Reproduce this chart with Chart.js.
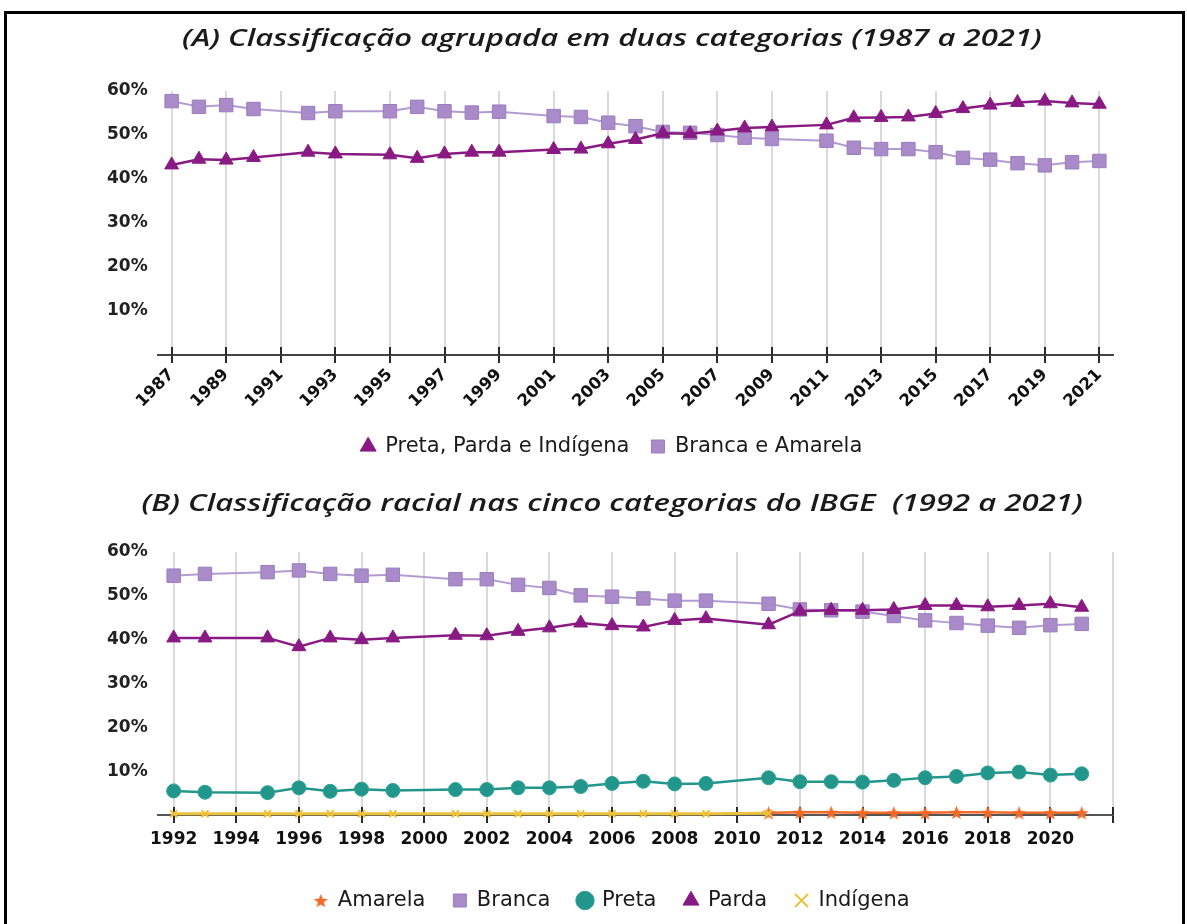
<!DOCTYPE html>
<html>
<head>
<meta charset="utf-8">
<script src="https://cdn.jsdelivr.net/npm/chart.js@4.4.1/dist/chart.umd.min.js"></script>
<style>
    html, body { margin: 0; padding: 0; background: #fff; }
    #page { position: relative; width: 1187px; height: 924px; overflow: hidden; background: #fff; }
    .frame { position: absolute; left: 4px; top: 11px; width: 1181px; height: 940px; border: 3px solid #000; box-sizing: border-box; }
    .title { position: absolute; display: inline-block; font-family: "Open Sans", sans-serif; font-style: italic; font-weight: 600; font-size: 24px; color: #1a1a1a; white-space: pre; line-height: 30px; transform-origin: 50% 50%; }
    .box { position: absolute; left: 0; width: 1187px; }
</style>
</head>
<body>
<div id="page">
    <div class="frame"></div>
    <div class="box" style="top:0; height:470px;"><canvas id="chartA"></canvas></div>
    <div class="box" style="top:470px; height:454px;"><canvas id="chartB"></canvas></div>
    <span class="title" id="titleA" style="top:22px;">(A) Classificação agrupada em duas categorias (1987 a 2021)</span>
    <span class="title" id="titleB" style="top:487px;">(B) Classificação racial nas cinco categorias do IBGE  (1992 a 2021)</span>
</div>
<script>
// (A) two groups, PNAD years
const yearsA = [1987, 1988, 1989, 1990, 1992, 1993, 1995, 1996, 1997, 1998, 1999, 2001, 2002, 2003, 2004, 2005, 2006, 2007, 2008, 2009, 2011, 2012, 2013, 2014, 2015, 2016, 2017, 2018, 2019, 2020, 2021];
const pretaPardaIndigena = [43.2, 44.5, 44.3, 44.9, 46.1, 45.7, 45.5, 44.7, 45.7, 46.1, 46.1, 46.7, 46.8, 48.0, 49.0, 50.4, 50.3, 50.9, 51.6, 51.8, 52.3, 53.9, 54.0, 54.1, 54.9, 56.0, 56.8, 57.4, 57.7, 57.3, 57.0];
const brancaAmarela = [57.7, 56.4, 56.8, 55.9, 55.0, 55.4, 55.4, 56.4, 55.4, 55.1, 55.3, 54.3, 54.1, 52.8, 52.0, 50.7, 50.5, 50.0, 49.4, 49.1, 48.7, 47.1, 46.8, 46.8, 46.1, 44.8, 44.4, 43.6, 43.1, 43.8, 44.1];
const tickYearsA = [1987, 1989, 1991, 1993, 1995, 1997, 1999, 2001, 2003, 2005, 2007, 2009, 2011, 2013, 2015, 2017, 2019, 2021];

// (B) five IBGE categories
const yearsB = [1992, 1993, 1995, 1996, 1997, 1998, 1999, 2001, 2002, 2003, 2004, 2005, 2006, 2007, 2008, 2009, 2011, 2012, 2013, 2014, 2015, 2016, 2017, 2018, 2019, 2020, 2021];
const branca = [54.6, 55.0, 55.4, 55.8, 55.0, 54.6, 54.8, 53.8, 53.8, 52.5, 51.8, 50.1, 49.8, 49.4, 48.9, 48.9, 48.2, 46.9, 46.7, 46.4, 45.4, 44.4, 43.8, 43.2, 42.7, 43.3, 43.6];
const parda = [40.4, 40.4, 40.4, 38.4, 40.4, 40.0, 40.4, 41.0, 40.9, 41.9, 42.7, 43.8, 43.2, 42.9, 44.4, 44.8, 43.4, 46.5, 46.7, 46.7, 46.9, 47.8, 47.8, 47.5, 47.8, 48.2, 47.4];
const preta = [5.5, 5.2, 5.1, 6.2, 5.4, 5.9, 5.6, 5.8, 5.8, 6.2, 6.2, 6.5, 7.2, 7.7, 7.1, 7.2, 8.5, 7.6, 7.6, 7.5, 7.9, 8.5, 8.8, 9.6, 9.8, 9.1, 9.4];
const yearsAmarela = [2011, 2012, 2013, 2014, 2015, 2016, 2017, 2018, 2019, 2020, 2021];
const amarela = [0.5, 0.6, 0.6, 0.5, 0.5, 0.5, 0.6, 0.6, 0.5, 0.5, 0.5];
const yearsIndigena = [1992, 1993, 1995, 1996, 1997, 1998, 1999, 2001, 2002, 2003, 2004, 2005, 2006, 2007, 2008, 2009, 2011];
const indigena = [0.3, 0.3, 0.3, 0.3, 0.3, 0.3, 0.3, 0.3, 0.3, 0.3, 0.3, 0.3, 0.3, 0.3, 0.3, 0.3, 0.4];
const tickYearsB = [1992, 1994, 1996, 1998, 2000, 2002, 2004, 2006, 2008, 2010, 2012, 2014, 2016, 2018, 2020, 2022];

const PURPLE = '#8a1a83';
const LILAC = '#a98bc9';
const TEAL = '#23968b';
const ORANGE = '#f26a2a';
const YELLOW = '#ecc23c';
const GRID = '#dadada';
const LABEL_FONT = "'DejaVu Sans', Verdana, sans-serif";

// titles: centred on x=612 and stretched to the reference width
function fitTitle(id, targetWidth) {
    const el = document.getElementById(id);
    const w = el.getBoundingClientRect().width;
    el.style.left = (612 - w / 2) + 'px';
    el.style.transform = 'scaleX(' + (targetWidth / w).toFixed(3) + ')';
}
fitTitle('titleA', 860);
fitTitle('titleB', 941);

function pts(xs, ys) {
    return xs.map((x, i) => ({ x: x, y: ys[i] }));
}

// small filled star used as the Amarela marker
function starImage(size, color) {
    const c = document.createElement('canvas');
    c.width = size; c.height = size;
    const g = c.getContext('2d');
    const cx = size / 2, cy = size / 2 + 0.8, R = size / 2, r = R * 0.42;
    g.beginPath();
    for (let i = 0; i < 10; i++) {
        const rad = i % 2 === 0 ? R : r;
        const a = -Math.PI / 2 + i * Math.PI / 5;
        g.lineTo(cx + rad * Math.cos(a), cy + rad * Math.sin(a));
    }
    g.closePath();
    g.fillStyle = color;
    g.fill();
    return c;
}
const star = starImage(15, ORANGE);

// dark tick marks crossing the x axis line
const tickMarks = {
    id: 'tickMarks',
    beforeDatasetsDraw(chart) {
        const xs = chart.scales.x;
        const ctx = chart.ctx;
        const b = chart.chartArea.bottom;
        ctx.save();
        ctx.strokeStyle = '#2a2a2a';
        ctx.lineWidth = 2;
        xs.ticks.forEach(t => {
            const px = Math.round(xs.getPixelForValue(t.value));
            ctx.beginPath();
            ctx.moveTo(px, b - 8);
            ctx.lineTo(px, b);
            ctx.stroke();
        });
        ctx.restore();
    }
};

// y labels: mirrored with a negative padding so they are not clipped
// by the narrow axis box (the left layout padding centres the legend)
function yAxis() {
    return {
        min: 0, max: 60,
        ticks: {
            stepSize: 10,
            mirror: true,
            padding: -51,
            color: '#222',
            font: { family: LABEL_FONT, size: 17, weight: 'bold' },
            callback: v => v === 0 ? '' : v + '%'
        },
        grid: { display: false, drawTicks: false },
        border: { display: false },
        afterFit: s => { s.width = 47; }
    };
}

function legendOpts(pad) {
    return {
        position: 'bottom',
        labels: {
            usePointStyle: true,
            boxWidth: 13,
            boxHeight: 13,
            padding: pad,
            color: '#1a1a1a',
            font: { family: LABEL_FONT, size: 21 },
            sort: (a, b) => a.datasetIndex - b.datasetIndex
        }
    };
}

Chart.defaults.animation = false;

new Chart(document.getElementById('chartA'), {
    type: 'line',
    data: {
        datasets: [
            {
                label: 'Preta, Parda e Indígena',
                data: pts(yearsA, pretaPardaIndigena),
                borderColor: PURPLE,
                backgroundColor: PURPLE,
                borderWidth: 2.5,
                pointStyle: 'triangle',
                pointRadius: 8,
                pointBorderWidth: 1,
                pointBorderColor: PURPLE
            },
            {
                label: 'Branca e Amarela',
                data: pts(yearsA, brancaAmarela),
                borderColor: '#b39bd2',
                backgroundColor: LILAC,
                borderWidth: 2,
                pointStyle: 'rect',
                pointRadius: 9.5,
                pointBorderWidth: 1,
                pointBorderColor: '#9a7dbd'
            }
        ]
    },
    options: {
        responsive: true,
        maintainAspectRatio: false,
        clip: false,
        layout: { padding: { left: 111, right: 74, top: 91, bottom: 3 } },
        plugins: { legend: legendOpts(22), tooltip: { enabled: false } },
        scales: {
            x: {
                type: 'linear',
                min: 1986.5, max: 2021.5,
                afterBuildTicks: s => { s.ticks = tickYearsA.map(v => ({ value: v })); },
                ticks: {
                    autoSkip: false,
                    minRotation: 45, maxRotation: 45,
                    padding: 2,
                    color: '#111',
                    font: { family: LABEL_FONT, size: 16.5, weight: 'bold' },
                    callback: v => String(v)
                },
                grid: { color: GRID, lineWidth: 2, tickLength: 8, tickColor: '#2a2a2a', tickWidth: 2 },
                border: { color: '#444', width: 2 },
                afterFit: s => { s.height = 59; }
            },
            y: yAxis()
        }
    },
    plugins: [tickMarks]
});

new Chart(document.getElementById('chartB'), {
    type: 'line',
    data: {
        datasets: [
            {
                label: 'Amarela',
                data: pts(yearsAmarela, amarela),
                borderColor: ORANGE,
                backgroundColor: ORANGE,
                borderWidth: 2.5,
                pointStyle: star,
                order: 1
            },
            {
                label: 'Branca',
                data: pts(yearsB, branca),
                borderColor: '#b39bd2',
                backgroundColor: LILAC,
                borderWidth: 2,
                pointStyle: 'rect',
                pointRadius: 9.5,
                pointBorderWidth: 1,
                pointBorderColor: '#9a7dbd',
                order: 3
            },
            {
                label: 'Preta',
                data: pts(yearsB, preta),
                borderColor: TEAL,
                backgroundColor: TEAL,
                borderWidth: 2.5,
                pointStyle: 'circle',
                pointRadius: 7,
                pointBorderWidth: 1,
                pointBorderColor: '#2aa397',
                order: 4
            },
            {
                label: 'Parda',
                data: pts(yearsB, parda),
                borderColor: PURPLE,
                backgroundColor: PURPLE,
                borderWidth: 2.5,
                pointStyle: 'triangle',
                pointRadius: 8,
                pointBorderWidth: 1,
                pointBorderColor: PURPLE,
                order: 2
            },
            {
                label: 'Indígena',
                data: pts(yearsIndigena, indigena),
                borderColor: YELLOW,
                backgroundColor: YELLOW,
                borderWidth: 3,
                pointStyle: 'crossRot',
                pointRadius: 5,
                pointBorderWidth: 2,
                order: 0
            }
        ]
    },
    options: {
        responsive: true,
        maintainAspectRatio: false,
        clip: false,
        layout: { padding: { left: 111, right: 74, top: 82, bottom: 3 } },
        plugins: { legend: legendOpts(28), tooltip: { enabled: false } },
        scales: {
            x: {
                type: 'linear',
                min: 1991.5, max: 2022,
                afterBuildTicks: s => { s.ticks = tickYearsB.map(v => ({ value: v })); },
                ticks: {
                    autoSkip: false,
                    maxRotation: 0,
                    padding: 6,
                    color: '#111',
                    font: { family: LABEL_FONT, size: 17, weight: 'bold' },
                    callback: v => v === 2022 ? '' : String(v)
                },
                grid: { color: GRID, lineWidth: 2, tickLength: 8, tickColor: '#2a2a2a', tickWidth: 2 },
                border: { color: '#555', width: 2 },
                afterFit: s => { s.height = 47; }
            },
            y: yAxis()
        }
    },
    plugins: [tickMarks]
});
</script>
</body>
</html>
